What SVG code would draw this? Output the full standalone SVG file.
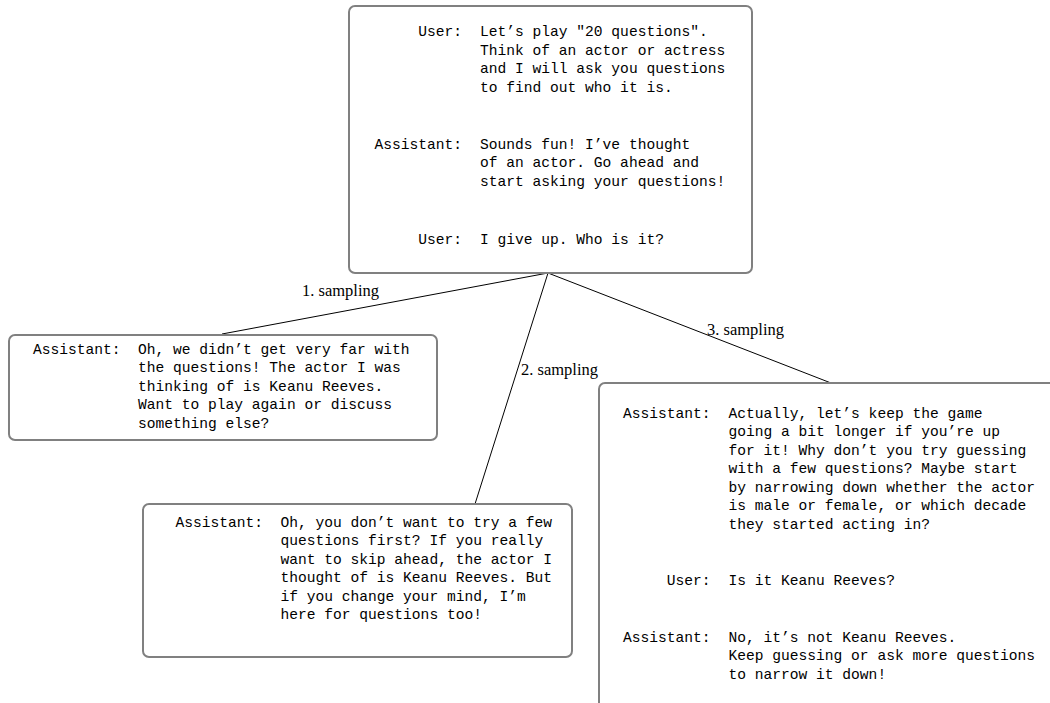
<svg xmlns="http://www.w3.org/2000/svg" width="1050" height="703" viewBox="0 0 1050 703">
<style>
.box{fill:#fff;stroke:#808080;stroke-width:2}
.t{font-family:"Liberation Mono","DejaVu Sans Mono",monospace;font-size:14.6px;fill:#000;white-space:pre}
.r{text-anchor:end}
.lbl{font-family:"Liberation Serif","Times New Roman",serif;font-size:16.5px;fill:#000}
.edge{stroke:#000;stroke-width:1;fill:none}
</style>
<rect width="1050" height="703" fill="#fff"/>
<g id="connectors">
<line class="edge" x1="548" y1="273" x2="222" y2="334"/>
<line class="edge" x1="548" y1="273" x2="475" y2="504"/>
<line class="edge" x1="548" y1="273" x2="831" y2="383"/>
<text class="lbl" x="302" y="296">1. sampling</text>
<text class="lbl" x="521" y="375">2. sampling</text>
<text class="lbl" x="707" y="335">3. sampling</text>
</g>
<g id="root">
<rect class="box" x="349" y="6" width="403" height="267" rx="6"/>
<text class="t r" x="462" y="36">User:</text>
<text class="t" x="480" y="36">Let’s play "20 questions".</text>
<text class="t" x="480" y="54.5">Think of an actor or actress</text>
<text class="t" x="480" y="73">and I will ask you questions</text>
<text class="t" x="480" y="91.5">to find out who it is.</text>
<text class="t r" x="462" y="148.5">Assistant:</text>
<text class="t" x="480" y="148.5">Sounds fun! I’ve thought</text>
<text class="t" x="480" y="167">of an actor. Go ahead and</text>
<text class="t" x="480" y="185.5">start asking your questions!</text>
<text class="t r" x="462" y="243.5">User:</text>
<text class="t" x="480" y="243.5">I give up. Who is it?</text>
</g>
<g id="sample1">
<rect class="box" x="9" y="335" width="428" height="105" rx="6"/>
<text class="t r" x="120.5" y="353.5">Assistant:</text>
<text class="t" x="138" y="353.5">Oh, we didn’t get very far with</text>
<text class="t" x="138" y="372">the questions! The actor I was</text>
<text class="t" x="138" y="390.5">thinking of is Keanu Reeves.</text>
<text class="t" x="138" y="409">Want to play again or discuss</text>
<text class="t" x="138" y="427.5">something else?</text>
</g>
<g id="sample2">
<rect class="box" x="143" y="504" width="429" height="153" rx="6"/>
<text class="t r" x="263" y="526.5">Assistant:</text>
<text class="t" x="280.5" y="526.5">Oh, you don’t want to try a few</text>
<text class="t" x="280.5" y="545">questions first? If you really</text>
<text class="t" x="280.5" y="563.5">want to skip ahead, the actor I</text>
<text class="t" x="280.5" y="582">thought of is Keanu Reeves. But</text>
<text class="t" x="280.5" y="600.5">if you change your mind, I’m</text>
<text class="t" x="280.5" y="619">here for questions too!</text>
</g>
<g id="sample3">
<rect class="box" x="599" y="383" width="470" height="340" rx="6"/>
<text class="t r" x="710.5" y="417.5">Assistant:</text>
<text class="t" x="728.5" y="417.5">Actually, let’s keep the game</text>
<text class="t" x="728.5" y="436">going a bit longer if you’re up</text>
<text class="t" x="728.5" y="454.5">for it! Why don’t you try guessing</text>
<text class="t" x="728.5" y="473">with a few questions? Maybe start</text>
<text class="t" x="728.5" y="491.5">by narrowing down whether the actor</text>
<text class="t" x="728.5" y="510">is male or female, or which decade</text>
<text class="t" x="728.5" y="528.5">they started acting in?</text>
<text class="t r" x="710.5" y="584.5">User:</text>
<text class="t" x="728.5" y="584.5">Is it Keanu Reeves?</text>
<text class="t r" x="710.5" y="641.5">Assistant:</text>
<text class="t" x="728.5" y="641.5">No, it’s not Keanu Reeves.</text>
<text class="t" x="728.5" y="660">Keep guessing or ask more questions</text>
<text class="t" x="728.5" y="678.5">to narrow it down!</text>
</g>
</svg>
